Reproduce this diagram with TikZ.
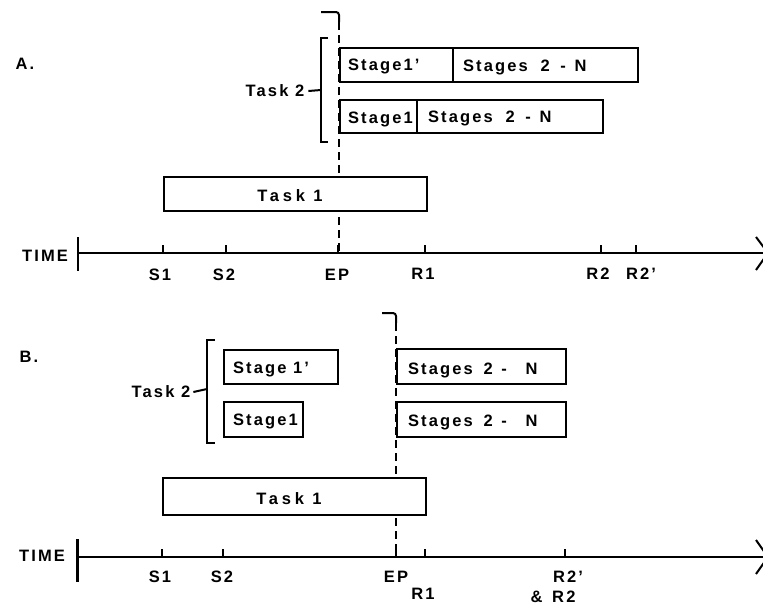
\documentclass[tikz,border=0pt]{standalone}
\usepackage{fontspec}
\setmainfont{Liberation Sans}
\newfontfamily\labfont[LetterSpace=13]{Liberation Sans}
\newfontfamily\widefont[LetterSpace=23]{Liberation Sans}
\begin{document}
\begin{tikzpicture}[x=1pt,y=-1pt,line width=2pt,
  boxnode/.style={draw,line width=2pt,fill=white,inner sep=0pt,anchor=north west},
  lbl/.style={font=\labfont\bfseries\fontsize{16.5}{16.5}\selectfont,inner sep=0pt,text height=11.8pt,text depth=0pt},
  widelbl/.style={font=\widefont\bfseries\fontsize{16.5}{16.5}\selectfont,inner sep=0pt,text height=11.8pt,text depth=0pt},
  dashline/.style={dash pattern=on 8pt off 5pt,line width=2pt},
  tickline/.style={line width=2pt}]
\useasboundingbox (0,0) rectangle (763,606);
\clip (0,0) rectangle (763,606);

% ================= Panel A =================
\node[lbl,anchor=center] (labA) at (25,64) {A.};

% dashed EP line
\coordinate (hookA) at (321,12);
\coordinate (epA) at (339,253);
\draw[rounded corners=3pt] (hookA) -| (339,22);
\draw[dashline] (339,22) -- (epA);

% Task 2 bracket
\coordinate (brAtop) at (328,38);
\coordinate (brAbot) at (328,142);
\draw (brAtop) -- (321,38) -- (321,142) -- (brAbot);
\node[lbl,anchor=center] (t2A) at (275,91) {Task 2};
\draw (t2A.east) ++(3pt,0) -- (321,90);

% Task 2 boxes
\node[boxnode,minimum width=113pt,minimum height=34pt] (a1p) at (339,47) {};
\node[boxnode,minimum width=185pt,minimum height=34pt] (a2p) at (452,47) {};
\node[boxnode,minimum width=77pt,minimum height=33pt] (a1) at (339,99) {};
\node[boxnode,minimum width=186pt,minimum height=33pt] (a2) at (416,99) {};
\node[lbl,anchor=west] (ta1p) at (347,65) {Stage1\hspace{2pt}’};
\node[lbl,anchor=west] (ta2p) at (462,66) {Stages\hspace{6pt} 2\hspace{4pt} -\hspace{2pt} N};
\node[lbl,anchor=west] (ta1) at (347,118) {Stage1};
\node[lbl,anchor=west] (ta2) at (427,117) {Stages\hspace{6pt} 2\hspace{4pt} -\hspace{2pt} N};

% Task 1 box
\node[boxnode,minimum width=263pt,minimum height=34pt] (task1A) at (163,176) {};
\node[widelbl,anchor=center] (tt1A) at (290,196) {Task 1};

% time axis
\node[lbl,anchor=center] (timeA) at (45,256) {TIME};
\coordinate (axAl) at (78,253);
\coordinate (axAr) at (768,253);
\draw (78,237) -- (78,271);
\draw (axAl) -- (axAr);
\draw (756,237) -- (axAr) -- (756,270);
\foreach \x in {163,226,338,425,601,636}
  \draw[tickline] (\x,253) -- (\x,245);
\node[lbl] (s1A) at (160,275) {S1};
\node[lbl] (s2A) at (224,275) {S2};
\node[lbl] (epAl) at (337,275) {EP};
\node[lbl] (r1A) at (423,274) {R1};
\node[lbl] (r2A) at (598,274) {R2};
\node[lbl] (r2pA) at (641,274) {R2’};

% ================= Panel B =================
\node[lbl,anchor=center] (labB) at (29,357) {B.};

% dashed EP line
\coordinate (hookB) at (382,313);
\coordinate (epB) at (396,557);
\draw[rounded corners=3pt] (hookB) -| (396,323);
\draw[dashline] (396,323) -- (epB);

% Task 2 bracket
\coordinate (brBtop) at (215,340);
\coordinate (brBbot) at (215,443);
\draw (brBtop) -- (207,340) -- (207,443) -- (brBbot);
\node[lbl,anchor=center] (t2B) at (161,392) {Task 2};
\draw (t2B.east) ++(2pt,0) -- (207,389);

% Stage 1 boxes
\node[boxnode,minimum width=114pt,minimum height=34pt] (b1p) at (223,349) {};
\node[boxnode,minimum width=79pt,minimum height=35pt] (b1) at (223,401) {};
\node[lbl,anchor=west] (tb1p) at (232,368) {Stage 1\hspace{2pt}’};
\node[lbl,anchor=west] (tb1) at (232,420) {Stage1};

% Stages 2-N boxes
\node[boxnode,minimum width=169pt,minimum height=35pt] (b2p) at (396,348) {};
\node[boxnode,minimum width=169pt,minimum height=35pt] (b2) at (396,401) {};
\node[lbl,anchor=west] (tb2p) at (407,369) {Stages\hspace{4pt} 2\hspace{2pt} -\hspace{12pt} N};
\node[lbl,anchor=west] (tb2) at (407,421) {Stages\hspace{4pt} 2\hspace{2pt} -\hspace{12pt} N};

% Task 1 box
\node[boxnode,minimum width=263pt,minimum height=37pt] (task1B) at (162,477) {};
\node[widelbl,anchor=center] (tt1B) at (289,499) {Task 1};

% time axis
\node[lbl,anchor=center] (timeB) at (42,556) {TIME};
\coordinate (axBl) at (77,557);
\coordinate (axBr) at (768,557);
\draw[line width=3pt] (77,539) -- (77,582);
\draw (axBl) -- (axBr);
\draw (756,540) -- (axBr) -- (756,574);
\foreach \x in {162,223,396,425,565}
  \draw[tickline] (\x,557) -- (\x,549);
\node[lbl] (s1B) at (160,577) {S1};
\node[lbl] (s2B) at (222,577) {S2};
\node[lbl] (epBl) at (396,577) {EP};
\node[lbl] (r1B) at (423,594) {R1};
\node[lbl] (r2pB) at (568,577) {R2’};
\node[lbl] (r2B) at (553,597) {\&\hspace{3pt} R2};
\end{tikzpicture}
\end{document}
